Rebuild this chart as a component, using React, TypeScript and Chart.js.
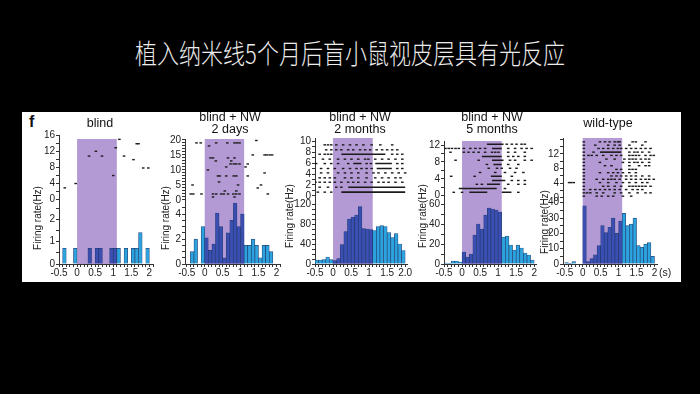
import React, { useEffect, useRef } from 'react';
import { Chart, registerables } from 'chart.js';

Chart.register(...registerables);

// ---------------- data ----------------
const TITLE = '植入纳米线5个月后盲小鼠视皮层具有光反应';
const PANEL_TITLES_1 = ['blind', 'blind + NW', 'blind + NW', 'blind + NW', 'wild-type'];
const PANEL_TITLES_2 = ['', '2 days', '2 months', '5 months', ''];
const Y_TITLE = 'Firing rate(Hz)';
const UNIT_LABEL = '(s)';
const FIG_LETTER = 'f';

const STIM_START = 0;
const STIM_END = 1.1;

const BIN_CENTERS = [-0.45, -0.35, -0.25, -0.15, -0.05, 0.05, 0.15, 0.25, 0.35, 0.45, 0.55, 0.65, 0.75, 0.85, 0.95, 1.05, 1.15, 1.25, 1.35, 1.45, 1.55, 1.65, 1.75, 1.85, 1.95];

const HIST_BLIND = [0, 0.7, 0, 0, 0.7, 0, 0, 0, 0.7, 0, 0.7, 0.7, 0, 0, 0.7, 0.7, 0.7, 0, 0.7, 0, 0.7, 0.7, 1.4, 0, 0.7];
const HIST_2DAYS = [0, 1.0, 2.0, 0, 3.0, 2.1, 1.1, 1.6, 4.1, 3.0, 0.5, 2.5, 3.5, 4.9, 3.0, 4.0, 1.5, 1.5, 2.0, 1.5, 0.5, 1.5, 1.5, 1.0, 0];
const HIST_2MONTHS = [8, 8, 9, 14, 9, 7, 11, 39, 65, 90, 94, 98, 115, 71, 70, 69, 67, 75, 77, 75, 63, 53, 61, 40, 27];
const HIST_5MONTHS = [1, 1, 3, 3, 2, 12, 7, 10, 29, 40, 35, 49, 56, 55, 54, 52, 27, 28, 19, 14, 19, 16, 11, 9, 4];
const HIST_WILD = [1, 0.4, 1.5, 0, 0, 38, 1.5, 3.5, 6, 12, 25, 20.5, 24, 30, 20, 28, 33, 25, 26, 30, 12, 11, 13, 14, 5];

// raster rows: [trial, spike times (s)]
const RASTER_BLIND: [number, number[]][] = [
  [2.8, [-0.34]], [3.9, [-0.04]], [5.9, [1.0]], [7.8, [1.83, 1.97]], [9.9, [1.56]],
  [10.8, [0.33, 0.69, 1.3]], [12, [0.52]], [12.9, [1.07]], [13.9, [1.65, 1.7]], [15, [1.17]],
];
const RASTER_2DAYS: [number, number[]][] = [
  [19.8, [1.44]],
  [19, [-0.23, -0.11, 0.32, 0.63, 0.83, 0.9, 0.97]],
  [18, [0.12]],
  [15, [1.34, 1.67, 1.73, 1.81, 1.88]],
  [14, [0.16, 0.23, 0.65, 0.83]],
  [13, [0.31, 0.74]],
  [12, [0.72, 0.81, 0.88, 0.97, 1.2]],
  [11, [0.6, 1.14]],
  [10, [0.09]],
  [9, [1.67]],
  [8, [0.37, 0.42, 0.6, 0.81, 0.88, 1.2]],
  [6, [0.4]],
  [5, [-0.34, 0.93, 1.57]],
  [4, [1.48]],
  [3, [0.56, 0.88]],
  [2, [-0.39, -0.32, -0.09, 0.23, 0.32, 0.46, 0.53, 0.65, 0.8, 0.88, 0.97, 1.76]],
  [1, [0.23, 0.83]],
];
const RASTER_2MONTHS: [number, number[]][] = [
  [9.3, [-0.23, -0.14, -0.05, 0.09, 0.28, 0.47, 0.65, 0.84, 1.07, 1.31, 1.64]],
  [8.4, [-0.19, -0.05, 0.09, 0.23, 0.42, 0.56, 0.75, 0.89, 1.03, 1.21, 1.36, 1.5, 1.64, 1.78]],
  [7.6, [-0.37, -0.23, -0.14, -0.05, 1.64, 1.78, 1.92]],
  [6.7, [-0.28, -0.09, 0.14, 0.33, 0.51, 0.7, 0.89, 0.98, 1.17, 1.36, 1.54, 1.73, 1.92]],
  [5.9, [-0.47, -0.23, -0.05, 0.14, 0.42, 0.93, 1.05, 1.78, 1.92]],
  [5.0, [-0.33, -0.14, 0.05, 0.28, 0.47, 0.65, 0.79, 0.93, 1.07, 1.78, 1.92]],
  [4.2, [-0.33, -0.14, 0.14, 0.33, 0.51, 0.7, 0.93, 1.12, 1.26, 1.45, 1.64, 1.82, 2.0]],
  [3.3, [-0.37, -0.23, -0.09, 0.05, 0.33, 0.51, 0.7, 0.93, 1.17, 1.36, 1.54, 1.73, 1.87]],
  [2.5, [-0.49, -0.37, -0.23, -0.09, 0.05, 0.23, 0.42, 0.56, 0.7, 0.89, 1.07, 1.26, 1.4, 1.54, 1.73, 1.92]],
  [1.6, [-0.37, -0.14, 0.09, 0.23]],
  [0.7, [-0.42, -0.23, -0.05]],
];
const RUNS_2MONTHS: [number, number, number][] = [
  [7.6, 0.23, 1.45], [5.9, 0.56, 0.79], [5.9, 1.17, 1.63], [5.0, 1.21, 1.63], [1.6, 0.42, 2.0], [0.7, 0.23, 2.0],
];
const RASTER_5MONTHS: [number, number[]][] = [
  [12.2, [1.24, 1.38, 1.51, 1.65, 1.74]],
  [11.2, [-0.46, -0.37, -0.28, -0.18, -0.09, 0.05, 0.23, 0.37, 0.5, 0.64, 1.28, 1.47, 1.65, 1.79, 1.93]],
  [10.3, [-0.32, 0.05, 0.18, 0.32, 0.46, 0.64, 0.83, 0.92, 1.01, 1.28, 1.47, 1.74]],
  [9.3, [1.28, 1.42, 1.56, 1.74]],
  [8.4, [-0.18, 0.46, 1.33, 1.47, 1.74, 1.93]],
  [7.4, [0.69, 1.28, 1.56]],
  [6.5, [0.74, 0.97, 1.1, 1.33, 1.51]],
  [5.5, [0.5, 0.92, 1.19, 1.47, 1.7]],
  [4.6, [-0.3, 0.35, 1.38]],
  [3.6, [1.38, 1.56, 1.74]],
  [2.7, [0.41, 0.55, 1.28, 1.56, 1.74]],
  [1.7, [1.19]],
  [0.8, [-0.23, 0.0, 1.56]],
];
const RUNS_5MONTHS: [number, number, number][] = [
  [12.2, 0.69, 1.15], [11.2, 0.83, 1.1], [9.3, 0.55, 1.1], [8.4, 0.83, 1.15], [7.4, 0.87, 1.1],
  [4.6, 0.8, 1.1], [3.6, 0.83, 1.2], [2.7, 0.69, 1.05], [1.7, -0.09, 0.96], [0.8, 0.2, 0.7], [0.8, 1.1, 1.37],
];
const RASTER_WILD: [number, number[]][] = [
  [15.3, [0.03, 0.48, 0.62, 0.75, 0.89, 0.98, 1.03, 1.39, 1.48, 1.75]],
  [14.4, [0.03, 0.35, 0.71, 0.89, 1.03, 1.3, 1.66]],
  [13.5, [0.03, 0.44, 0.57, 0.71, 0.85, 0.98, 1.07, 1.21, 1.35, 1.48, 1.62, 1.75, 1.89]],
  [12.5, [0.03, 0.3, 1.3, 1.44, 1.53, 1.66, 1.85]],
  [11.6, [0.03, 0.16, 0.25, 0.39, 0.57, 0.8, 0.94, 1.07, 1.3, 1.39, 1.48, 1.57, 1.75, 1.89, 1.98]],
  [10.6, [0.03, 0.66, 0.89, 1.16, 1.3, 1.39, 1.48, 1.62, 1.75, 1.85]],
  [9.7, [0.03, 0.48, 1.12, 1.3, 1.44, 1.53, 1.66, 1.85]],
  [8.8, [0.03, 0.62, 0.8, 1.3, 1.57, 1.75, 1.85]],
  [7.8, [0.03, 0.94, 1.07, 1.3, 1.39, 1.48]],
  [6.9, [0.03, 0.48, 0.71, 0.85, 0.98, 1.12, 1.3, 1.48]],
  [6.0, [0.03, 0.8, 0.94, 1.07, 1.21, 1.35, 1.48, 1.66, 1.85]],
  [5.1, [0.03, 0.39, 0.57, 0.71, 0.8, 0.89, 1.03, 1.21, 1.35, 1.48, 1.62, 1.75, 1.85, 1.98]],
  [4.2, [-0.38, -0.32, -0.25, 0.03, 0.48, 0.71, 0.94, 1.12, 1.3, 1.48, 1.66, 1.8]],
  [3.2, [0.03, 0.57, 0.71, 0.89, 1.07, 1.3, 1.39, 1.48, 1.57, 1.66, 1.75, 1.89]],
  [2.3, [0.03, 0.21, 0.35, 0.48, 0.62, 0.75, 0.89, 1.03, 1.21, 1.39, 1.53, 1.66]],
  [1.4, [0.03, 0.12, 0.21, 0.39, 0.57, 0.89, 1.07, 1.3, 1.53, 1.75, 1.89]],
  [0.5, [0.03, 0.39, 0.53, 0.71, 0.85, 1.12, 1.35]],
];
const RUNS_WILD: [number, number, number][] = [[12.5, 0.48, 1.07]];

const X_TICKS = [-0.5, 0, 0.5, 1, 1.5, 2];
const X_LABELS = ['-0.5', '0', '0.5', '1', '1.5', '2'];
const X_LABELS_2MONTHS = ['-0.5', '0', '0.5', '1', '1.5', '2.0'];

const RASTER_TICKS_BLIND = [0, 4, 8, 12, 16];
const RASTER_TICKS_2DAYS = [0, 5, 10, 15, 20];
const RASTER_TICKS_2MONTHS = [0, 2, 4, 6, 8, 10];
const RASTER_TICKS_5MONTHS = [0, 4, 8, 12];
const RASTER_TICKS_WILD = [0, 4, 8, 12];
const HIST_TICKS_BLIND = [0, 1, 2];
const HIST_TICKS_2DAYS = [0, 2, 4];
const HIST_TICKS_2MONTHS = [0, 40, 80, 120];
const HIST_TICKS_5MONTHS = [0, 20, 40, 60];
const HIST_TICKS_WILD = [0, 10, 20, 30, 40];

// ---------------- style / layout ----------------
const FONT = "'Liberation Sans', Arial, sans-serif";
const PURPLE = '#b39ad5';
const DARK_BAR = '#3b4fb3';
const LIGHT_BAR = '#2ba3de';
const BAR_EDGE = 'rgba(22,52,110,0.9)';
const AXIS = '#333';
const TEXT = '#222';
const PPS = 36; // px per second
const BASE = 264; // y pixel of histogram zero
const PAD_T = 8;
const PAD_R = 8;
const YW = 30;
const XH = 18;

type Spec = {
  hist: number[];
  raster: [number, number[]][];
  runs: [number, number, number][];
  rTicks: number[];
  rMinor: number;
  hTicks: number[];
  hMinor: number;
  xLabels: string[];
  zeroX: number;
  xMin: number;
  xMax: number;
  top: number;
  split: number;
  rMin: number;
  rMax: number;
  hMax: number;
  stimTop: number;
};

const SPECS: Spec[] = [
  { hist: HIST_BLIND, raster: RASTER_BLIND, runs: [], rTicks: RASTER_TICKS_BLIND, rMinor: 2, hTicks: HIST_TICKS_BLIND, hMinor: 0.5, xLabels: X_LABELS,
    zeroX: 76.5, xMin: -0.5, xMax: 2.1, top: 135, split: 200, rMin: -0.25, rMax: 16.1, hMax: 2.86, stimTop: 15.1 },
  { hist: HIST_2DAYS, raster: RASTER_2DAYS, runs: [], rTicks: RASTER_TICKS_2DAYS, rMinor: 1, hTicks: HIST_TICKS_2DAYS, hMinor: 0.5, xLabels: X_LABELS,
    zeroX: 205, xMin: -0.55, xMax: 2.1, top: 139, split: 202, rMin: -0.67, rMax: 20.3, hMax: 4.98, stimTop: 20.3 },
  { hist: HIST_2MONTHS, raster: RASTER_2MONTHS, runs: RUNS_2MONTHS, rTicks: RASTER_TICKS_2MONTHS, rMinor: 1, hTicks: HIST_TICKS_2MONTHS, hMinor: 10, xLabels: X_LABELS_2MONTHS,
    zeroX: 333, xMin: -0.5, xMax: 2.05, top: 138, split: 200, rMin: -0.73, rMax: 10.55, hMax: 128, stimTop: 10.55 },
  { hist: HIST_5MONTHS, raster: RASTER_5MONTHS, runs: RUNS_5MONTHS, rTicks: RASTER_TICKS_5MONTHS, rMinor: 2, hTicks: HIST_TICKS_5MONTHS, hMinor: 10, xLabels: X_LABELS,
    zeroX: 462, xMin: -0.5, xMax: 2.05, top: 141, split: 201, rMin: -1.26, rMax: 12.96, hMax: 63, stimTop: 12.96 },
  { hist: HIST_WILD, raster: RASTER_WILD, runs: RUNS_WILD, rTicks: RASTER_TICKS_WILD, rMinor: 2, hTicks: HIST_TICKS_WILD, hMinor: 5, xLabels: X_LABELS,
    zeroX: 583, xMin: -0.55, xMax: 2.07, top: 138, split: 201, rMin: -0.82, rMax: 16.35, hMax: 41.1, stimTop: 16.35 },
];

const TITLE_POS = [
  { cx: 100, cy: 123 },
  { cx: 230, cy: 117 },
  { cx: 360, cy: 117 },
  { cx: 492, cy: 117 },
  { cx: 608, cy: 123 },
];
const YTITLE_POS = [
  { cx: 38, cy: 218 },
  { cx: 166, cy: 218 },
  { cx: 290, cy: 216 },
  { cx: 423, cy: 216 },
  { cx: 545, cy: 222 },
];

const labelFor = (v: number, ticks: number[], labels: string[]) => {
  const i = ticks.findIndex((t) => Math.abs(t - v) < 1e-6);
  return i >= 0 ? labels[i] : '';
};

const stimPlugin = {
  id: 'stimBox',
  beforeDatasetsDraw(chart: any, _args: any, opts: any) {
    const { ctx, scales } = chart;
    const x = scales.x;
    const yR = scales.yR;
    const yH = scales.yH;
    const l = x.getPixelForValue(STIM_START);
    const r = x.getPixelForValue(STIM_END);
    const t = Math.max(yR.top, yR.getPixelForValue(opts.top));
    const b = yH.getPixelForValue(0);
    ctx.save();
    ctx.fillStyle = PURPLE;
    ctx.fillRect(l, t, r - l, b - t);
    ctx.restore();
  },
};

function Panel({ spec }: { spec: Spec }) {
  const ref = useRef<HTMLCanvasElement>(null);
  const axisX = spec.zeroX + spec.xMin * PPS;
  const left = Math.round(axisX - YW);
  const top = spec.top - PAD_T;
  const width = Math.round(YW + (spec.xMax - spec.xMin) * PPS + PAD_R);
  const height = PAD_T + (BASE - spec.top) + XH;

  useEffect(() => {
    const canvas = ref.current;
    if (!canvas) return;
    const bars = BIN_CENTERS.map((x, i) => ({ x, y: spec.hist[i] }));
    const dots: { x: number; y: number }[] = [];
    spec.raster.forEach(([y, ts]) => ts.forEach((x) => dots.push({ x, y })));
    const runData: { x: number; y: number | null }[] = [];
    spec.runs.forEach(([y, a, b]) => {
      runData.push({ x: a, y }, { x: b, y }, { x: b, y: null });
    });
    const tickFont = { family: FONT, size: 10 };
    const yAxisBase = (ticks: number[], step: number) => ({
      type: 'linear' as const,
      position: 'left' as const,
      stack: 'col',
      grid: { display: true, drawOnChartArea: false, drawTicks: true, tickLength: 3, color: AXIS, lineWidth: 1 },
      border: { display: true, color: AXIS, width: 1 },
      ticks: {
        stepSize: step,
        includeBounds: false,
        autoSkip: false,
        padding: 1,
        color: TEXT,
        font: tickFont,
        callback: (v: any) => labelFor(Number(v), ticks, ticks.map(String)),
      },
      afterFit: (s: any) => {
        s.width = YW;
        s.paddingTop = 0;
        s.paddingBottom = 0;
      },
    });
    const chart = new Chart(canvas, {
      type: 'bar',
      data: {
        datasets: [
          {
            type: 'bar',
            data: bars as any,
            xAxisID: 'x',
            yAxisID: 'yH',
            backgroundColor: BIN_CENTERS.map((c) => (c > STIM_START && c < STIM_END ? DARK_BAR : LIGHT_BAR)),
            borderColor: BAR_EDGE,
            borderWidth: 0.7,
            barPercentage: 1,
            categoryPercentage: 1,
          } as any,
          {
            type: 'scatter',
            data: dots as any,
            xAxisID: 'x',
            yAxisID: 'yR',
            pointStyle: 'line',
            pointRadius: 1.3,
            pointBorderWidth: 1.4,
            borderColor: '#1b1b1b',
            pointBorderColor: '#1b1b1b',
            showLine: false,
          } as any,
          {
            type: 'line',
            data: runData as any,
            xAxisID: 'x',
            yAxisID: 'yR',
            borderColor: '#1b1b1b',
            borderWidth: 1.6,
            pointRadius: 0,
            spanGaps: false,
            fill: false,
          } as any,
        ],
      },
      options: {
        animation: false,
        responsive: false,
        devicePixelRatio: 1,
        events: [],
        layout: { padding: { top: PAD_T, right: PAD_R, left: 0, bottom: 0 } },
        plugins: {
          legend: { display: false },
          tooltip: { enabled: false },
          title: { display: false },
          stimBox: { top: spec.stimTop },
        } as any,
        scales: {
          x: {
            type: 'linear',
            position: 'bottom',
            min: spec.xMin,
            max: spec.xMax,
            offset: false,
            grid: { display: true, drawOnChartArea: false, drawTicks: true, tickLength: 3, color: AXIS, offset: false },
            border: { display: true, color: AXIS, width: 1 },
            ticks: {
              stepSize: 0.1,
              includeBounds: false,
              autoSkip: false,
              maxRotation: 0,
              minRotation: 0,
              padding: 0,
              color: TEXT,
              font: tickFont,
              callback: (v: any) => labelFor(Number(v), X_TICKS, spec.xLabels),
            },
            afterFit: (s: any) => {
              s.height = XH;
              s.paddingLeft = 0;
              s.paddingRight = 0;
            },
          } as any,
          yH: {
            ...yAxisBase(spec.hTicks, spec.hMinor),
            stackWeight: BASE - spec.split,
            min: 0,
            max: spec.hMax,
          } as any,
          yR: {
            ...yAxisBase(spec.rTicks, spec.rMinor),
            stackWeight: spec.split - spec.top,
            min: spec.rMin,
            max: spec.rMax,
          } as any,
        },
      },
      plugins: [stimPlugin as any],
    });
    return () => chart.destroy();
  }, []);

  return (
    <canvas
      ref={ref}
      width={width}
      height={height}
      style={{ position: 'absolute', left, top, width, height }}
    />
  );
}

export default function App() {
  return (
    <div
      style={{
        position: 'fixed',
        left: 0,
        top: 0,
        width: 700,
        height: 394,
        background: '#000',
        overflow: 'hidden',
        fontFamily: FONT,
      }}
    >
      <div
        style={{
          position: 'absolute',
          left: 0,
          top: 36,
          width: 700,
          textAlign: 'center',
          color: '#ececec',
          fontFamily: "'Noto Sans CJK SC', sans-serif",
          fontWeight: 300,
          fontSize: 22,
          lineHeight: '32px',
          transform: 'scaleY(1.22)',
        }}
      >
        {TITLE}
      </div>
      <div style={{ position: 'absolute', left: 22, top: 112, width: 659, height: 170, background: '#fff' }} />
      <div style={{ position: 'absolute', left: 29, top: 112, fontSize: 16, fontWeight: 'bold', color: '#111', lineHeight: '20px' }}>
        {FIG_LETTER}
      </div>
      {SPECS.map((s, i) => (
        <Panel key={i} spec={s} />
      ))}
      {TITLE_POS.map((p, i) => (
        <React.Fragment key={'t' + i}>
          <div
            style={{
              position: 'absolute',
              left: p.cx - 60,
              top: p.cy - 7,
              width: 120,
              textAlign: 'center',
              fontSize: 12.5,
              lineHeight: '14px',
              color: '#111',
            }}
          >
            {PANEL_TITLES_1[i]}
          </div>
          {PANEL_TITLES_2[i] ? (
            <div
              style={{
                position: 'absolute',
                left: p.cx - 60,
                top: p.cy + 5,
                width: 120,
                textAlign: 'center',
                fontSize: 12.5,
                lineHeight: '14px',
                color: '#111',
              }}
            >
              {PANEL_TITLES_2[i]}
            </div>
          ) : null}
        </React.Fragment>
      ))}
      {YTITLE_POS.map((p, i) => (
        <div
          key={'y' + i}
          style={{
            position: 'absolute',
            left: p.cx - 40,
            top: p.cy - 6,
            width: 80,
            height: 12,
            lineHeight: '12px',
            textAlign: 'center',
            fontSize: 10,
            color: TEXT,
            transform: 'rotate(-90deg)',
            whiteSpace: 'nowrap',
          }}
        >
          {Y_TITLE}
        </div>
      ))}
      <div style={{ position: 'absolute', left: 659, top: 266, fontSize: 10.5, lineHeight: '12px', color: TEXT }}>
        {UNIT_LABEL}
      </div>
    </div>
  );
}
